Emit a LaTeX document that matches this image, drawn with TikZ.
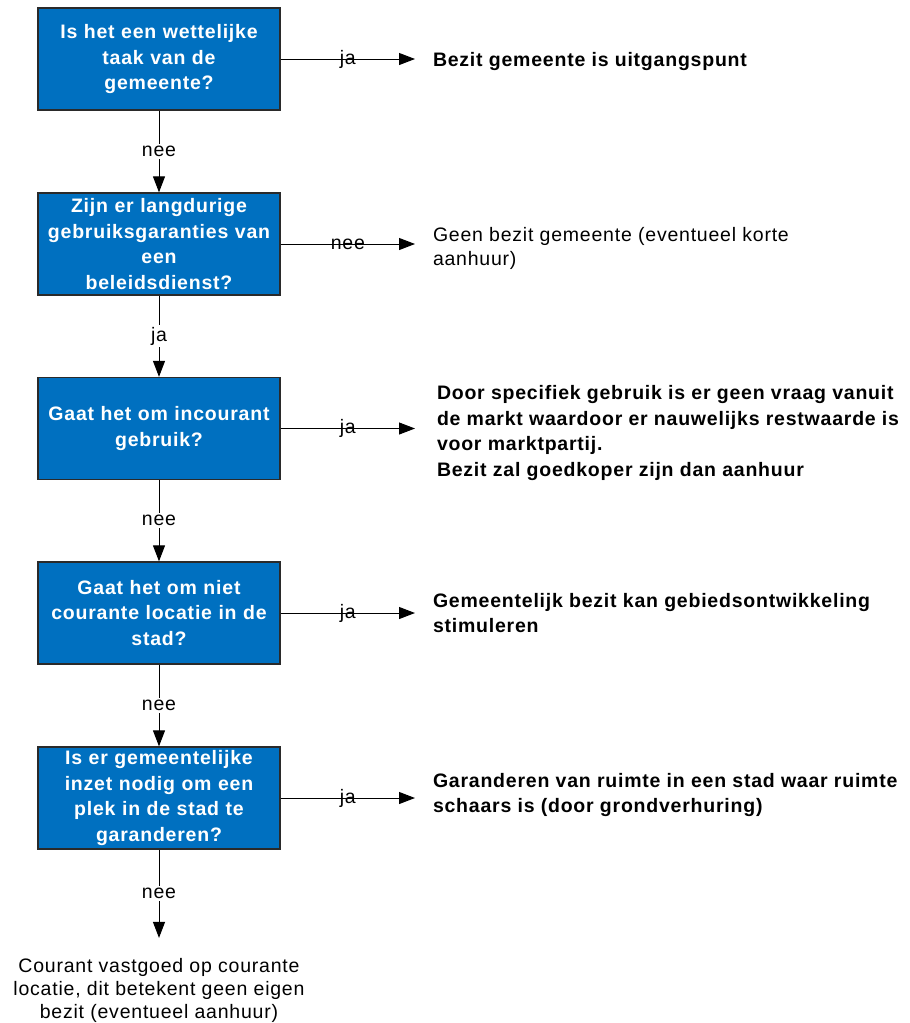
\documentclass[tikz,border=0pt]{standalone}
\usepackage{fontspec}
\setmainfont{Liberation Sans}
\newfontfamily\wsans[LetterSpace=4]{Liberation Sans}
\usetikzlibrary{arrows.meta}
\definecolor{boxblue}{HTML}{0070C0}
\definecolor{boxedge}{HTML}{2A2A2A}
\tikzset{
  qbox/.style={draw=boxedge, line width=1.3pt, fill=boxblue, minimum width=242pt, minimum height=102pt,
    text width=240pt, align=center, inner sep=0pt, text=white,
    font=\wsans\fontsize{19.5}{25.5}\selectfont\bfseries},
  ans/.style={anchor=west, align=left, inner sep=0pt, outer xsep=18pt,
    font=\wsans\fontsize{19.5}{25}\selectfont\bfseries},
  ansplain/.style={ans, font=\wsans\fontsize{19.5}{24}\selectfont},
  conn/.style={line width=1pt, -{Triangle[length=16pt,width=12pt]}},
  vlab/.style={fill=white, inner sep=2pt, font=\wsans\fontsize{19.5}{20}\selectfont},
  hlab/.style={inner sep=0pt, font=\wsans\fontsize{19.5}{20}\selectfont},
}
\begin{document}
\begin{tikzpicture}[x=1pt,y=-1pt]
\useasboundingbox (0,0) rectangle (910,1023);
\node[qbox] (b1) at (159,59) {Is het een wettelijke\\taak van de\\gemeente?};
\node[qbox] (b2) at (159,244) {Zijn er langdurige\\gebruiksgaranties van\\een\\beleidsdienst?};
\node[qbox] (b3) at (159,428.5) {Gaat het om incourant\\gebruik?};
\node[qbox] (b4) at (159,613) {Gaat het om niet\\courante locatie in de\\stad?};
\node[qbox] (b5) at (159,798) {Is er gemeentelijke\\inzet nodig om een\\plek in de stad te\\garanderen?};

\node[ans] (t1) at (415,61) {Bezit gemeente is uitgangspunt};
\node[ansplain] (t2) at (415,248) {Geen bezit gemeente (eventueel korte\\aanhuur)};
\node[ans, outer xsep=22pt, font=\wsans\fontsize{19.5}{25.7}\selectfont\bfseries] (t3) at (415,433) {Door specifiek gebruik is er geen vraag vanuit\\de markt waardoor er nauwelijks restwaarde is\\voor marktpartij.\\Bezit zal goedkoper zijn dan aanhuur};
\node[ans] (t4) at (415,613) {Gemeentelijk bezit kan gebiedsontwikkeling\\stimuleren};
\node[ans] (t5) at (415,795) {Garanderen van ruimte in een stad waar ruimte\\schaars is (door grondverhuring)};
\node[align=center, inner sep=0pt, outer ysep=20pt, font=\wsans\fontsize{19.5}{23}\selectfont] (bt) at (159,990) {Courant vastgoed op courante\\locatie, dit betekent geen eigen\\bezit (eventueel aanhuur)};

\draw[conn] (b1.east) -- (b1.east-|t1.west) node[hlab, pos=0.5] {ja};
\draw[conn] (b2.east) -- (b2.east-|t2.west) node[hlab, pos=0.5] {nee};
\draw[conn] (b3.east) -- (b3.east-|t3.west) node[hlab, pos=0.5] {ja};
\draw[conn] (b4.east) -- (b4.east-|t4.west) node[hlab, pos=0.5] {ja};
\draw[conn] (b5.east) -- (b5.east-|t5.west) node[hlab, pos=0.5] {ja};

\draw[conn] (b1.south) -- (b2.north) node[vlab, pos=0.5] {nee};
\draw[conn] (b2.south) -- (b3.north) node[vlab, pos=0.5] {ja};
\draw[conn] (b3.south) -- (b4.north) node[vlab, pos=0.5] {nee};
\draw[conn] (b4.south) -- (b5.north) node[vlab, pos=0.5] {nee};
\draw[conn] (b5.south) -- (bt.north) node[vlab, pos=0.5] {nee};
\end{tikzpicture}
\end{document}
